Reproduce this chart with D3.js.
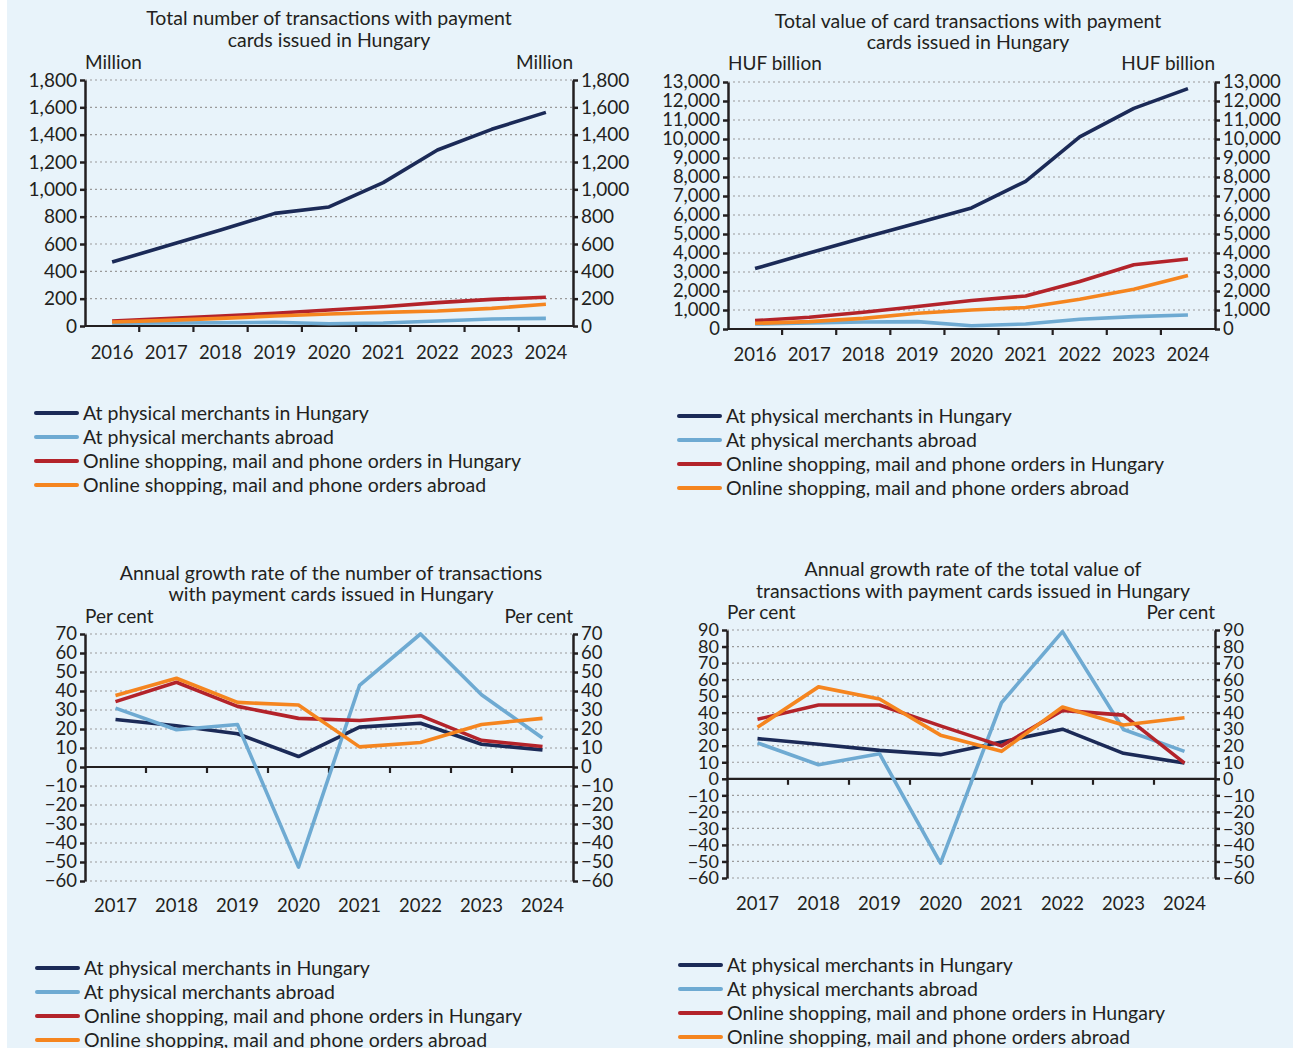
<!DOCTYPE html>
<html>
<head>
<meta charset="utf-8">
<script src="https://d3js.org/d3.v7.min.js"></script>
<style>
  body { margin: 0; background: #fff; }
  svg text { font-family: Lato, "Open Sans", sans-serif; fill: #231f20; }
</style>
</head>
<body>
<div id="chart"></div>
<script>
// years
var years16 = [2016, 2017, 2018, 2019, 2020, 2021, 2022, 2023, 2024];
var years17 = [2017, 2018, 2019, 2020, 2021, 2022, 2023, 2024];

var seriesNames = ["At physical merchants in Hungary", "At physical merchants abroad",
  "Online shopping, mail and phone orders in Hungary", "Online shopping, mail and phone orders abroad"];
var seriesColors = ["#1b2a57", "#6eaad2", "#b3232a", "#f5851f"];

// number of transactions, million
var numPhysHu = [468, 585, 702, 824, 871, 1049, 1288, 1439, 1563];
var numPhysAbroad = [20, 22, 24, 27, 17, 22, 37, 51, 56];
var numOnlineHu = [37, 54, 73, 93, 117, 141, 171, 195, 210];
var numOnlineAbroad = [29, 41, 56, 73, 88, 100, 110, 129, 159];

// value of transactions, HUF billion
var valPhysHu = [3180, 4000, 4800, 5580, 6370, 7770, 10110, 11610, 12650];
var valPhysAbroad = [260, 320, 370, 390, 175, 265, 510, 650, 740];
var valOnlineHu = [440, 615, 880, 1180, 1500, 1740, 2500, 3380, 3680];
var valOnlineAbroad = [300, 390, 560, 830, 1000, 1130, 1570, 2090, 2810];

// growth of number, per cent
var gnPhysHu = [25, 21.7, 17.5, 5.5, 21, 23, 12, 9];
var gnPhysAbroad = [31, 19.6, 22.4, -52.7, 42.9, 70, 38, 15.3];
var gnOnlineHu = [34.4, 44.6, 31.9, 25.6, 24.5, 27, 14, 10.8];
var gnOnlineAbroad = [37.6, 46.7, 34, 32.6, 10.6, 12.9, 22.4, 25.6];

// growth of value, per cent
var gvPhysHu = [24.3, 20.9, 17.2, 14.6, 22.3, 30, 15.4, 9.5];
var gvPhysAbroad = [21.7, 8.5, 15.2, -51, 46, 89, 29.8, 16.6];
var gvOnlineHu = [36, 44.6, 44.6, 32, 19.9, 41.4, 38.5, 9.5];
var gvOnlineAbroad = [31.2, 55.6, 48.3, 26.4, 16.6, 43.4, 32.5, 36.9];

var svg = d3.select("#chart").append("svg")
  .attr("width", 1298).attr("height", 1048);

svg.append("rect").attr("x", 7).attr("y", 0).attr("width", 1286).attr("height", 1048)
  .attr("fill", "#e8f3fa");

function drawChart(c) {
  var g = svg.append("g");
  var x = d3.scaleBand().domain(c.years).range([c.left, c.right]);
  var y = d3.scaleLinear().domain(c.domain).range([c.bottom, c.top]);
  var ticks = d3.range(c.domain[0], c.domain[1] + 1, c.step);
  var fmt = d3.format(",");

  // title
  c.title.forEach(function(t, i) {
    g.append("text").attr("x", c.titleX).attr("y", c.titleY[i]).attr("dy", "0.35em")
      .attr("text-anchor", "middle").style("font-size", "19.5px").text(t);
  });
  g.append("text").attr("x", c.left).attr("y", c.unitY).attr("dy", "0.35em")
    .style("font-size", "19px").text(c.unit);
  g.append("text").attr("x", c.right).attr("y", c.unitY).attr("dy", "0.35em")
    .attr("text-anchor", "end").style("font-size", "19px").text(c.unit);

  // dotted gridlines
  g.selectAll(".grid").data(ticks.filter(function(d) { return d !== 0; }))
    .enter().append("line")
    .attr("x1", c.left).attr("x2", c.right)
    .attr("y1", function(d) { return y(d); }).attr("y2", function(d) { return y(d); })
    .attr("stroke", "#9a9a9a").attr("stroke-width", 1.2).attr("stroke-dasharray", "2,3");

  // y axes
  var la = g.append("g").attr("transform", "translate(" + c.left + ",0)")
    .call(d3.axisLeft(y).tickValues(ticks).tickSize(5).tickSizeOuter(0).tickFormat(fmt));
  var ra = g.append("g").attr("transform", "translate(" + c.right + ",0)")
    .call(d3.axisRight(y).tickValues(ticks).tickSize(5).tickSizeOuter(0).tickFormat(fmt));
  [la, ra].forEach(function(a) {
    a.select(".domain").attr("stroke", "#231f20").attr("stroke-width", 2.5);
    a.selectAll(".tick line").attr("stroke", "#231f20").attr("stroke-width", 2.5);
    a.selectAll(".tick text").style("font-size", c.tickFont).attr("fill", "#231f20");
  });

  // x axis at zero with ticks at category boundaries
  var y0 = y(0);
  g.append("line").attr("x1", c.left).attr("x2", c.right).attr("y1", y0).attr("y2", y0)
    .attr("stroke", "#231f20").attr("stroke-width", 2.2);
  g.selectAll(".xt").data(c.years.slice(1)).enter().append("line")
    .attr("x1", function(d) { return x(d); }).attr("x2", function(d) { return x(d); })
    .attr("y1", y0).attr("y2", y0 + 6)
    .attr("stroke", "#231f20").attr("stroke-width", 2.2);
  g.selectAll(".xl").data(c.years).enter().append("text")
    .attr("x", function(d) { return x(d) + x.bandwidth() / 2; })
    .attr("y", c.labelY).attr("dy", "0.35em").attr("text-anchor", "middle")
    .style("font-size", "18.5px").text(function(d) { return d; });

  // lines
  var line = d3.line()
    .x(function(d, i) { return x(c.years[i]) + x.bandwidth() / 2; })
    .y(function(d) { return y(d); });
  c.series.forEach(function(s, i) {
    g.append("path").attr("d", line(s)).attr("fill", "none")
      .attr("stroke", seriesColors[i]).attr("stroke-width", 3.6)
      .attr("stroke-linejoin", "round");
  });

  // legend
  seriesNames.forEach(function(n, i) {
    var ly = c.legendY + i * 24;
    g.append("line").attr("x1", c.legendX).attr("x2", c.legendX + 41)
      .attr("y1", ly).attr("y2", ly).attr("stroke", seriesColors[i])
      .attr("stroke-width", 4).attr("stroke-linecap", "round");
    g.append("text").attr("x", c.legendX + 47).attr("y", ly).attr("dy", "0.35em")
      .style("font-size", "19.5px").text(n);
  });
}

drawChart({
  years: years16, left: 85, right: 573, top: 80, bottom: 326,
  domain: [0, 1800], step: 200, unit: "Million", tickFont: "19px",
  title: ["Total number of transactions with payment", "cards issued in Hungary"],
  titleX: 329, titleY: [18, 40], unitY: 62, labelY: 353,
  series: [numPhysHu, numPhysAbroad, numOnlineHu, numOnlineAbroad],
  legendX: 36, legendY: 413
});

drawChart({
  years: years16, left: 728, right: 1215, top: 82, bottom: 329,
  domain: [0, 13000], step: 1000, unit: "HUF billion", tickFont: "18.5px",
  title: ["Total value of card transactions with payment", "cards issued in Hungary"],
  titleX: 968, titleY: [21, 42], unitY: 63, labelY: 355,
  series: [valPhysHu, valPhysAbroad, valOnlineHu, valOnlineAbroad],
  legendX: 679, legendY: 416
});

drawChart({
  years: years17, left: 85, right: 573, top: 634, bottom: 881,
  domain: [-60, 70], step: 10, unit: "Per cent", tickFont: "18.5px",
  title: ["Annual growth rate of the number of transactions", "with payment cards issued in Hungary"],
  titleX: 331, titleY: [573, 594], unitY: 616, labelY: 906,
  series: [gnPhysHu, gnPhysAbroad, gnOnlineHu, gnOnlineAbroad],
  legendX: 37, legendY: 968
});

drawChart({
  years: years17, left: 727, right: 1215, top: 630, bottom: 878,
  domain: [-60, 90], step: 10, unit: "Per cent", tickFont: "18px",
  title: ["Annual growth rate of the total value of", "transactions with payment cards issued in Hungary"],
  titleX: 973, titleY: [569, 591], unitY: 612, labelY: 904,
  series: [gvPhysHu, gvPhysAbroad, gvOnlineHu, gvOnlineAbroad],
  legendX: 680, legendY: 965
});
</script>
</body>
</html>
